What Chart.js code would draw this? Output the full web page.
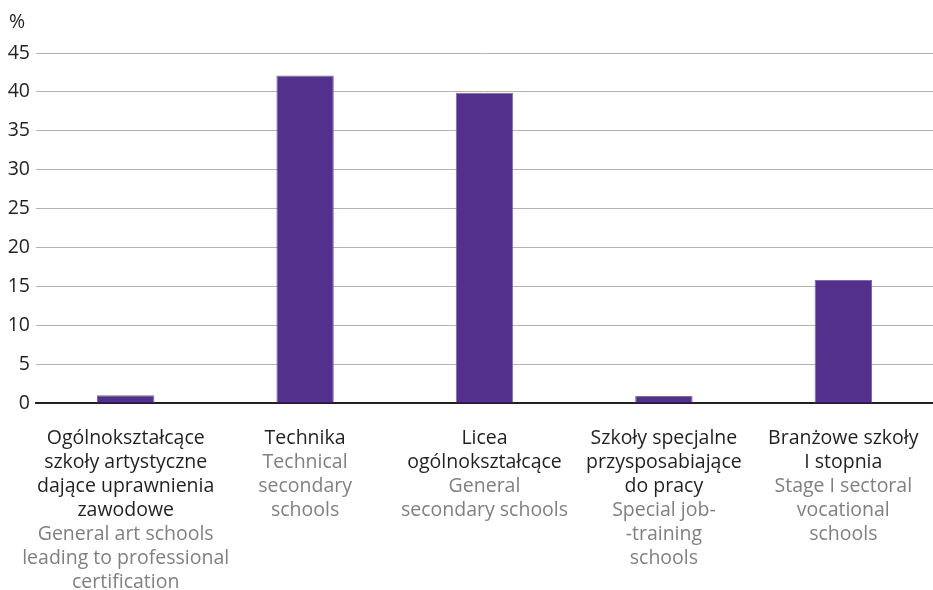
<!DOCTYPE html>
<html>
<head>
<meta charset="utf-8">
<script src="https://cdn.jsdelivr.net/npm/chart.js@4.4.1/dist/chart.umd.min.js"></script>
<style>
  html, body { margin: 0; padding: 0; background: #fff; }
  #wrap { width: 933px; height: 590px; position: relative; }
</style>
</head>
<body>
<div id="wrap"><canvas id="schoolsChart"></canvas></div>
<script>
// categories: Polish name lines and English name lines
const categoriesPl = [
  ["Ogólnokształcące", "szkoły artystyczne", "dające uprawnienia", "zawodowe"],
  ["Technika"],
  ["Licea", "ogólnokształcące"],
  ["Szkoły specjalne", "przysposabiające", "do pracy"],
  ["Branżowe szkoły", "I stopnia"]
];
const categoriesEn = [
  ["General art schools", "leading to professional", "certification"],
  ["Technical", "secondary", "schools"],
  ["General", "secondary schools"],
  ["Special job-", "-training", "schools"],
  ["Stage I sectoral", "vocational", "schools"]
];
const shareValues = [1.0, 42.1, 39.9, 0.9, 15.8];
const yTicks = [0, 5, 10, 15, 20, 25, 30, 35, 40, 45];
const unitLabel = "%";

const FONT = "'Open Sans', 'Noto Sans', sans-serif";

// draws the two-colour category labels under the axis and the unit label
const labelPlugin = {
  id: "twoColourLabels",
  afterDraw(chart) {
    const ctx = chart.ctx;
    const xScale = chart.scales.x;
    const yScale = chart.scales.y;
    ctx.save();
    ctx.font = "19.5px " + FONT;
    ctx.textAlign = "center";
    ctx.textBaseline = "middle";
    const lineH = 24;
    const startY = chart.chartArea.bottom + 35;
    categoriesPl.forEach((pl, i) => {
      const x = xScale.getPixelForTick(i);
      let y = startY;
      ctx.fillStyle = "#231f20";
      pl.forEach(line => { ctx.fillText(line, x, y); y += lineH; });
      ctx.fillStyle = "#808080";
      categoriesEn[i].forEach(line => { ctx.fillText(line, x, y); y += lineH; });
    });
    ctx.textAlign = "left";
    ctx.fillStyle = "#231f20";
    ctx.fillText(unitLabel, 9, yScale.getPixelForValue(45) - 31);
    ctx.restore();
  }
};

new Chart(document.getElementById("schoolsChart"), {
  type: "bar",
  data: {
    labels: categoriesPl.map(l => l.join(" ")),
    datasets: [{
      data: shareValues,
      backgroundColor: "#52308c",
      borderColor: "#8467b3",
      borderWidth: { top: 1, left: 1, right: 1, bottom: 0 },
      barPercentage: 0.32,
      categoryPercentage: 1.0
    }]
  },
  options: {
    responsive: true,
    maintainAspectRatio: false,
    animation: false,
    layout: { padding: { top: 53, right: 0, bottom: 179, left: 0 } },
    plugins: {
      legend: { display: false },
      title: { display: false },
      tooltip: { enabled: false }
    },
    scales: {
      x: {
        ticks: { display: false },
        grid: { display: false },
        border: { display: true, color: "#231f20", width: 2 }
      },
      y: {
        min: 0,
        max: 45,
        afterFit(scale) { scale.width = 36; },
        afterBuildTicks(scale) { scale.ticks = yTicks.map(v => ({ value: v })); },
        ticks: {
          color: "#231f20",
          font: { family: FONT, size: 19.5 },
          padding: 6
        },
        grid: {
          color: ctx => ctx.tick && ctx.tick.value === 0 ? "rgba(0,0,0,0)" : "#b3b3b3",
          drawTicks: false
        },
        border: { display: false }
      }
    }
  },
  plugins: [labelPlugin]
});
</script>
</body>
</html>
